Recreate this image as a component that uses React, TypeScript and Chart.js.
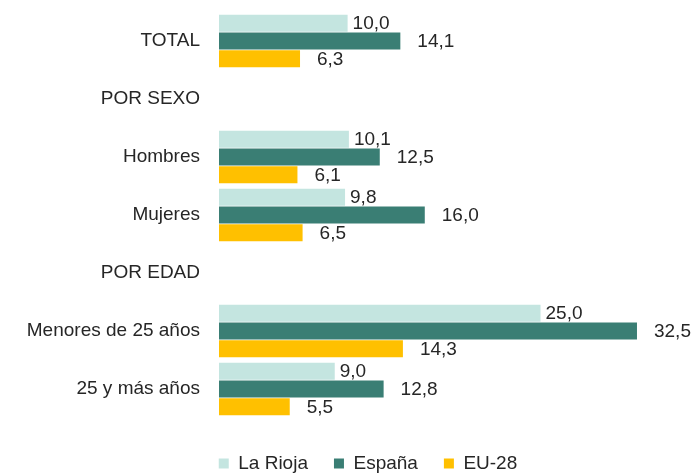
import React, { useEffect, useRef } from "react";
import { Chart, registerables } from "chart.js";

Chart.register(...registerables);

const categories = ["TOTAL", "POR SEXO", "Hombres", "Mujeres", "POR EDAD", "Menores de 25 años", "25 y más años"];
const laRioja = [10.0, null, 10.1, 9.8, null, 25.0, 9.0];
const espana = [14.1, null, 12.5, 16.0, null, 32.5, 12.8];
const eu28 = [6.3, null, 6.1, 6.5, null, 14.3, 5.5];
const seriesNames = ["La Rioja", "España", "EU-28"];
const seriesColors = ["#c4e5e0", "#3a7e74", "#ffc000"];
const labelOffsets = [5, 17, 17];

const fmt = (v: number) => v.toFixed(1).replace(".", ",");
const FONT = "'Liberation Sans', Arial, sans-serif";
const FS = 19;

const valueLabels = {
  id: "valueLabels",
  afterDatasetsDraw(chart: any) {
    const ctx = chart.ctx;
    ctx.save();
    ctx.font = `${FS}px ${FONT}`;
    ctx.fillStyle = "#262626";
    ctx.textAlign = "left";
    ctx.textBaseline = "middle";
    chart.data.datasets.forEach((ds: any, di: number) => {
      const meta = chart.getDatasetMeta(di);
      meta.data.forEach((el: any, i: number) => {
        const v = ds.data[i];
        if (v === null || v === undefined) return;
        ctx.fillText(fmt(v), el.x + labelOffsets[di], el.y + 1);
      });
    });
    ctx.restore();
  },
};

const legendShift = {
  id: "legendShift",
  afterLayout(chart: any) {
    if (chart.legend) chart.legend.left += 54;
  },
};

export default function App() {
  const ref = useRef<HTMLCanvasElement | null>(null);
  useEffect(() => {
    if (!ref.current) return;
    const chart = new Chart(ref.current, {
      type: "bar",
      data: {
        labels: categories,
        datasets: [laRioja, espana, eu28].map((d, i) => ({
          label: seriesNames[i],
          data: d,
          backgroundColor: seriesColors[i],
          borderWidth: 0,
          categoryPercentage: 0.92,
          barPercentage: 0.95,
        })),
      },
      options: {
        indexAxis: "y",
        animation: false,
        responsive: true,
        maintainAspectRatio: false,
        layout: { padding: { top: 12, right: 13, bottom: -10, left: 0 } },
        scales: {
          x: { display: false, min: 0, max: 36 },
          y: {
            grid: { display: false, drawTicks: false },
            border: { display: false },
            ticks: {
              padding: 19,
              color: "#262626",
              font: { family: FONT, size: FS },
            },
            afterFit(axis: any) {
              axis.width = 219;
              axis.paddingTop = 0;
              axis.paddingBottom = 0;
            },
          },
        },
        plugins: {
          tooltip: { enabled: false },
          legend: {
            position: "bottom",
            title: { display: true, text: "", font: { size: 1, lineHeight: 1 }, padding: { top: 9, bottom: 0 } },
            labels: {
              boxWidth: 10,
              boxHeight: 10,
              padding: 26,
              color: "#262626",
              font: { family: FONT, size: FS },
            },
          },
        },
      },
      plugins: [valueLabels, legendShift],
    });
    return () => chart.destroy();
  }, []);
  return (
    <div style={{ position: "fixed", left: 0, top: 0, width: 695, height: 473, background: "#fff" }}>
      <canvas ref={ref} />
    </div>
  );
}
